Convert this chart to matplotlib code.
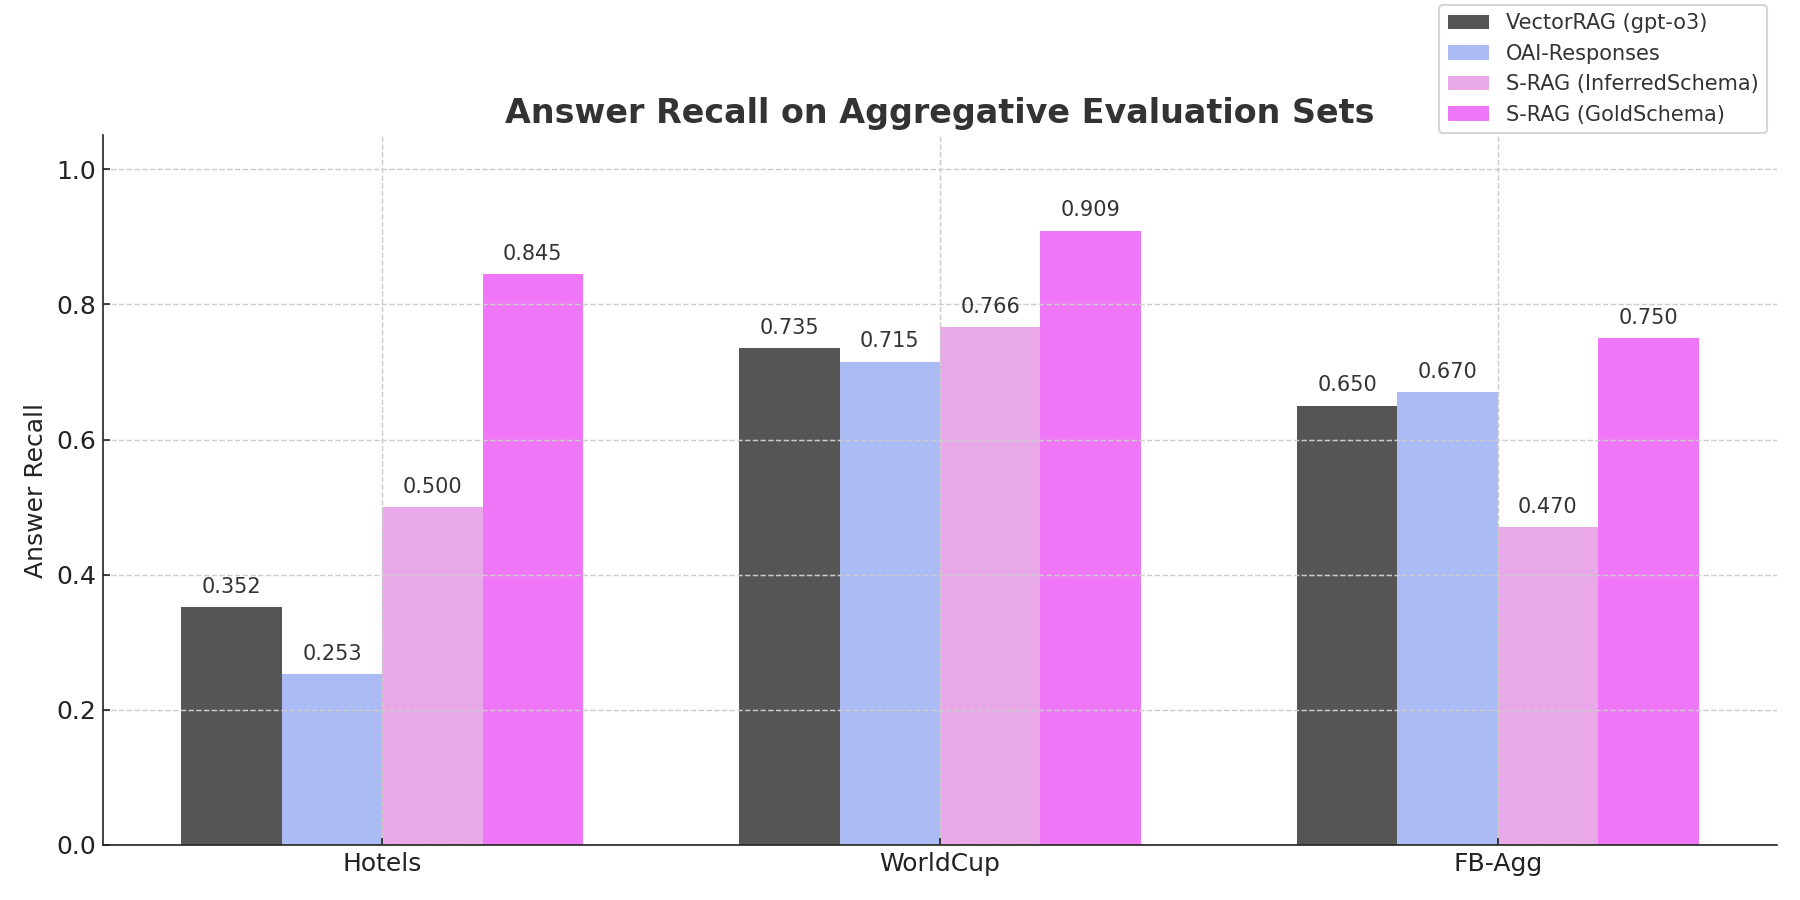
import matplotlib
matplotlib.use("Agg")
import matplotlib.pyplot as plt
import numpy as np

categories = ["Hotels", "WorldCup", "FB-Agg"]
series_names = ["VectorRAG (gpt-o3)", "OAI-Responses", "S-RAG (InferredSchema)", "S-RAG (GoldSchema)"]
vectorrag = [0.352, 0.735, 0.650]
oai_responses = [0.253, 0.715, 0.670]
srag_inferred = [0.500, 0.766, 0.470]
srag_gold = [0.845, 0.909, 0.750]
colors = ["#555555", "#abbcf5", "#e9a8e8", "#ef77f7"]

values = [vectorrag, oai_responses, srag_inferred, srag_gold]

fig = plt.figure(figsize=(12, 6), dpi=150)
ax = fig.add_axes([0.0574, 0.0612, 0.9296, 0.7883])

x = np.arange(len(categories))
w = 0.18
for i, (name, vals, c) in enumerate(zip(series_names, values, colors)):
    bars = ax.bar(x + (i - 1.5) * w, vals, w, color=c, label=name)
    for b, v in zip(bars, vals):
        ax.annotate(f"{v:.3f}", (b.get_x() + b.get_width() / 2, v),
                    xytext=(0, 5), textcoords="offset points",
                    ha="center", va="bottom", fontsize=10, color="#333333")

ax.set_xlim(-0.5, 2.5)
ax.set_ylim(0, 1.05)
ax.set_xticks(x)
ax.set_xticklabels(categories)
ax.set_yticks([0.0, 0.2, 0.4, 0.6, 0.8, 1.0])
ax.tick_params(axis="both", labelsize=12, colors="#222222", direction="in")
ax.set_ylabel("Answer Recall", fontsize=12, color="#222222")
ax.set_title("Answer Recall on Aggregative Evaluation Sets", fontsize=16,
             fontweight="bold", color="#333333", pad=6)
ax.grid(True, linestyle="--", color="#cccccc", linewidth=0.7)
ax.spines["top"].set_visible(False)
ax.spines["right"].set_visible(False)
ax.spines["left"].set_color("#222222")
ax.spines["bottom"].set_color("#222222")

fig.legend(loc="upper right", bbox_to_anchor=(0.9817, 0.9944), fontsize=10,
           borderaxespad=0, labelcolor="#333333")

fig.savefig("out.png", dpi=150)
